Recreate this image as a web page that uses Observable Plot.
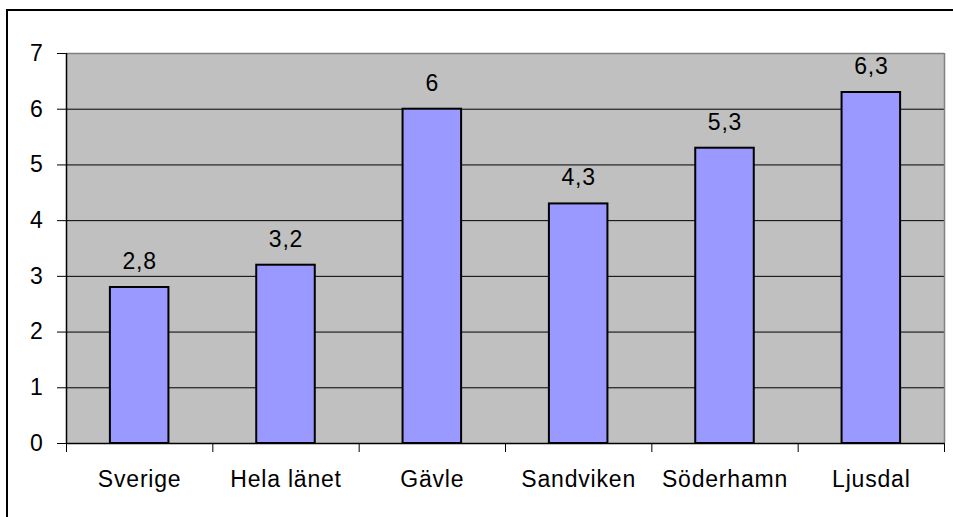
<!DOCTYPE html>
<html><head><meta charset="utf-8">
<script src="https://cdn.jsdelivr.net/npm/d3@7"></script>
<script src="https://cdn.jsdelivr.net/npm/@observablehq/plot@0.6"></script>
<style>
body{margin:0;background:#fff;}
#wrap{position:relative;width:953px;height:517px;overflow:hidden;}
#border{position:absolute;left:6px;top:9px;width:1000px;height:1000px;border:2px solid #000;box-sizing:border-box;pointer-events:none;}
#chart svg text{letter-spacing:0.8px;}
</style></head><body><div id="wrap"><div id="chart"></div><div id="border"></div></div>
<script>
const categories = ["Sverige","Hela länet","Gävle","Sandviken","Söderhamn","Ljusdal"];
const values = [2.8, 3.2, 6, 4.3, 5.3, 6.3];
const yTicks = [0,1,2,3,4,5,6,7];

const data = categories.map((c, i) => ({c, i, v: values[i]}));
const bounds = d3.range(categories.length + 1);
const fmt = v => String(v).replace(".", ",");
const font = "'Liberation Sans', Arial, sans-serif";
const fs = 23;

const chart = Plot.plot({
  width: 953, height: 517,
  marginLeft: 66, marginRight: 9, marginTop: 53, marginBottom: 74,
  style: {fontFamily: font, fontSize: fs + "px", background: "transparent", color: "#000"},
  x: {type: "linear", domain: [0, categories.length], axis: null},
  y: {domain: [0, 7], axis: null},
  marks: [
    Plot.frame({fill: "#C0C0C0", stroke: null}),
    Plot.ruleY(yTicks.filter(t => t > 0 && t < 7), {stroke: "#000", strokeWidth: 1}),
    Plot.ruleY([7], {stroke: "#808080", strokeWidth: 1.5}),
    Plot.ruleX([categories.length], {stroke: "#808080", strokeWidth: 1.5}),
    Plot.rect(data, {x1: d => d.i + 0.3, x2: d => d.i + 0.7, y1: 0, y2: "v", fill: "#9999FF", stroke: "#000", strokeWidth: 2}),
    Plot.ruleY([0], {stroke: "#000", strokeWidth: 1.5}),
    Plot.ruleX([0], {stroke: "#000", strokeWidth: 1.5}),
    Plot.axisY(yTicks, {tickSize: 9, tickPadding: 14, fontSize: fs, tickFormat: d => String(d), label: null, stroke: "#000", fill: "#000"}),
    Plot.axisX(bounds, {tickSize: 9, tickFormat: () => "", label: null, stroke: "#000"}),
    Plot.text(data, {x: d => d.i + 0.5, text: "c", frameAnchor: "bottom", dy: 36, fontSize: fs, fill: "#000", lineAnchor: "middle"}),
    Plot.text(data, {x: d => d.i + 0.5, y: "v", text: d => fmt(d.v), dy: -26, fontSize: fs, fill: "#000", lineAnchor: "middle"})
  ]
});
document.getElementById("chart").appendChild(chart);
</script>
</body></html>
